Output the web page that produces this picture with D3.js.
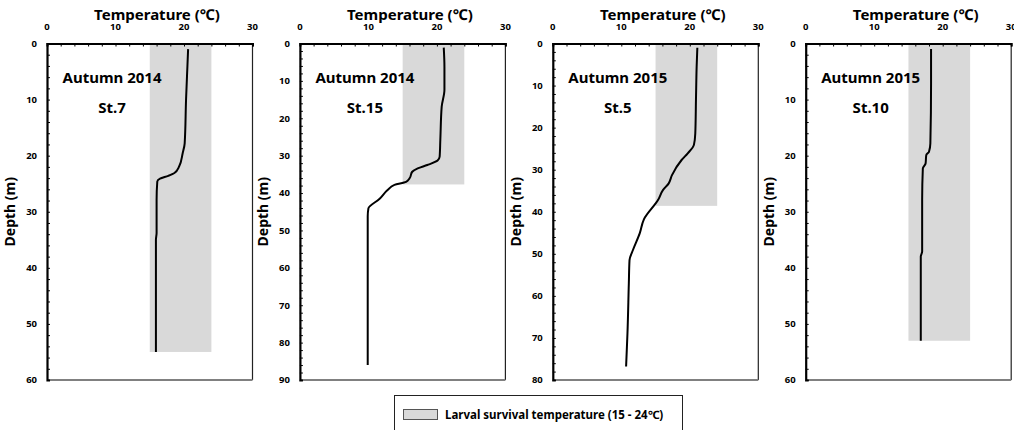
<!DOCTYPE html>
<html>
<head>
<meta charset="utf-8">
<script src="https://cdn.jsdelivr.net/npm/d3@7"></script>
<style>
  body { margin: 0; background: #fff; }
  text { font-family: "Noto Sans", "Open Sans", sans-serif; font-weight: bold; fill: #000; }
</style>
</head>
<body>
<div id="chart"></div>
<script>
var width = 1014, height = 430;

// panel info
var seasons = ["Autumn 2014", "Autumn 2014", "Autumn 2015", "Autumn 2015"];
var stations = ["St.7", "St.15", "St.5", "St.10"];
var depthMax = [60, 90, 80, 60];
var shadeBottom = [55, 37.7, 38.6, 53];
var shadeRange = [15, 24];
var tempTicks = [0, 10, 20, 30];

// profiles (depth m, temperature C)
var depth1 = [1, 4, 10, 17.8, 19.6, 21.9, 23.1, 23.6, 24.1, 24.6, 27.9, 33.8, 35, 55];
var temp1  = [20.6, 20.5, 20.3, 20.1, 19.8, 19.3, 18.6, 17.7, 16.5, 16.1, 16.0, 16.0, 15.9, 15.9];

var depth2 = [1.1, 6.2, 12.4, 16.9, 25.8, 30.3, 31.3, 32.5, 33.4, 34.3, 36.1, 37, 37.8, 39.2, 41.6, 44.1, 46.3, 86];
var temp2  = [21.0, 21.1, 21.1, 20.7, 20.5, 20.4, 20.1, 18.6, 17.2, 16.4, 16.0, 15.5, 13.8, 12.8, 11.6, 10.0, 9.9, 9.9];

var depth3 = [1, 5.5, 13.4, 21.4, 24.1, 26.1, 27.7, 31.3, 33.3, 34.8, 37.1, 41.8, 45.1, 49.1, 51.5, 57, 68.9, 72.9, 76.8];
var temp3  = [21.1, 21.0, 20.9, 20.8, 20.6, 19.7, 18.8, 17.4, 16.9, 16.1, 15.4, 13.3, 12.7, 11.7, 11.2, 11.1, 10.9, 10.8, 10.7];

var depth4 = [1, 7.1, 17.8, 19.3, 19.9, 21.4, 22.3, 27.9, 37.1, 38, 53];
var temp4  = [18.3, 18.3, 18.2, 18.0, 17.6, 17.5, 17.1, 17.0, 17.0, 16.8, 16.8];

var depths = [depth1, depth2, depth3, depth4];
var temps = [temp1, temp2, temp3, temp4];

var legendLabel = "Larval survival temperature (15 - 24\u2103)";

var svg = d3.select("#chart").append("svg")
    .attr("width", width)
    .attr("height", height);

var plotTop = 43.5, plotBottom = 380, plotW = 205.5;
var panelX = d3.scaleLinear().domain([0, 3]).range([47, 805.7]);

var line = d3.line().curve(d3.curveMonotoneY);

seasons.forEach(function(season, i){

  var x0 = panelX(i);
  var g = svg.append("g").attr("transform", "translate(" + x0 + ",0)");

  var x = d3.scaleLinear().domain([0, 30]).range([0, plotW]);
  var y = d3.scaleLinear().domain([0, depthMax[i]]).range([plotTop, plotBottom]);

  // survival band
  g.append("rect")
      .attr("x", x(shadeRange[0]))
      .attr("y", y(0))
      .attr("width", x(shadeRange[1]) - x(shadeRange[0]))
      .attr("height", y(shadeBottom[i]) - y(0))
      .attr("fill", "#d9d9d9");

  // box: right/bottom
  g.append("line").attr("x1", x(30)).attr("x2", x(30)).attr("y1", y(0)).attr("y2", plotBottom)
      .attr("stroke", "#222").attr("stroke-width", 1.2);
  g.append("line").attr("x1", 0).attr("x2", x(30)).attr("y1", plotBottom).attr("y2", plotBottom)
      .attr("stroke", "#808080").attr("stroke-width", 2);

  // minor ticks top
  var xMinor = g.append("g")
      .attr("transform", "translate(0," + plotTop + ")")
      .call(d3.axisTop(x).tickValues(d3.range(0, 31, 2)).tickSize(-3).tickFormat(""));
  xMinor.select(".domain").attr("stroke", "#000").attr("stroke-width", 2);
  xMinor.selectAll(".tick line").attr("stroke", "#000").attr("stroke-width", 1);

  g.selectAll(".xlab")
      .data(tempTicks)
    .enter().append("text")
      .attr("x", function(d){ return x(d); })
      .attr("y", 30)
      .attr("text-anchor", "middle")
      .style("font-size", "9.5px")
      .text(function(d){ return d; });

  // y axis
  var yMinor = g.append("g")
      .call(d3.axisLeft(y).tickValues(d3.range(0, depthMax[i] + 1, 2)).tickSize(-3).tickFormat(""));
  yMinor.select(".domain").attr("stroke", "#000").attr("stroke-width", 2.2);
  yMinor.selectAll(".tick line").attr("stroke", "#000").attr("stroke-width", 1);

  g.selectAll(".ylab")
      .data(d3.range(0, depthMax[i] + 1, 10))
    .enter().append("text")
      .attr("x", -10)
      .attr("y", function(d){ return y(d); })
      .attr("dy", "0.35em")
      .attr("text-anchor", "end")
      .style("font-size", "9.5px")
      .text(function(d){ return d; });

  // profile
  var pts = depths[i].map(function(d, k){ return [x(temps[i][k]), y(d)]; });
  g.append("path")
      .attr("d", line(pts))
      .attr("fill", "none")
      .attr("stroke", "#000")
      .attr("stroke-width", 2);

  // titles
  g.append("text")
      .attr("x", 110)
      .attr("y", 20)
      .attr("text-anchor", "middle")
      .style("font-size", "15px")
      .text("Temperature (\u2103)");

  g.append("text")
      .attr("transform", "translate(-32," + ((plotTop + plotBottom) / 2) + ") rotate(-90)")
      .attr("text-anchor", "middle")
      .style("font-size", "14px")
      .text("Depth (m)");

  g.append("text")
      .attr("x", 65)
      .attr("y", 83)
      .attr("text-anchor", "middle")
      .style("font-size", "15px")
      .text(season);

  g.append("text")
      .attr("x", 65)
      .attr("y", 113)
      .attr("text-anchor", "middle")
      .style("font-size", "15px")
      .text(stations[i]);
});

// legend
var lg = svg.append("g");
lg.append("rect")
    .attr("x", 394.5).attr("y", 395.5)
    .attr("width", 288).attr("height", 40)
    .attr("fill", "#fff").attr("stroke", "#222").attr("stroke-width", 1);
lg.append("rect")
    .attr("x", 403.5).attr("y", 409.5)
    .attr("width", 34).attr("height", 10)
    .attr("fill", "#d9d9d9").attr("stroke", "#555").attr("stroke-width", 1);
lg.append("text")
    .attr("x", 445)
    .attr("y", 419)
    .style("font-size", "11.5px")
    .text(legendLabel);
</script>
</body>
</html>
